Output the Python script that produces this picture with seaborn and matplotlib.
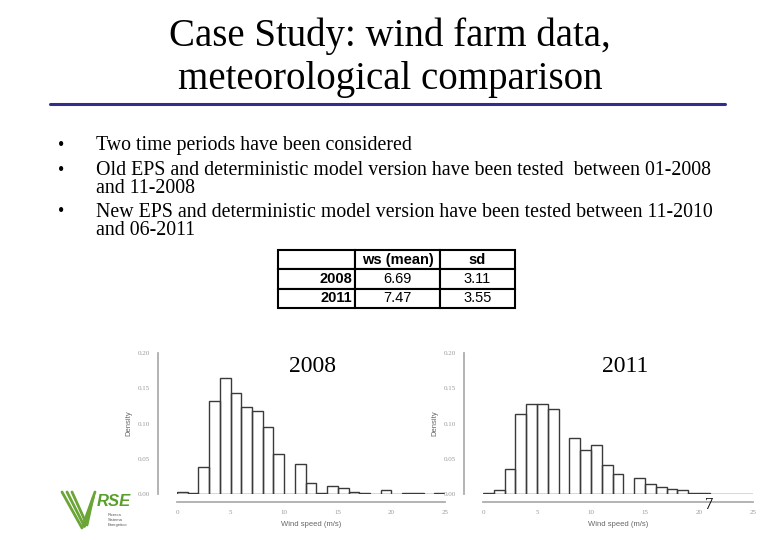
import numpy as np
import pandas as pd
import matplotlib
matplotlib.use("Agg")
import matplotlib.pyplot as plt
import seaborn as sns

# histogram bins (1 m/s wide) and densities
bin_left = np.arange(0, 25)
dens_2008 = [0.003, 0.001, 0.038, 0.132, 0.164, 0.143, 0.124, 0.118, 0.095, 0.057,
             0.0, 0.042, 0.016, 0.001, 0.011, 0.008, 0.003, 0.002, 0.0, 0.005,
             0.0, 0.001, 0.001, 0.0, 0.001]
dens_2011 = [0.001, 0.005, 0.035, 0.114, 0.128, 0.128, 0.120, 0.0, 0.080, 0.063,
             0.069, 0.041, 0.028, 0.0, 0.023, 0.014, 0.010, 0.007, 0.006, 0.001,
             0.002, 0.0005, 0.0005, 0.0005, 0.0005]

table_rows = ["2008", "2011"]
table_cols = ["", "ws (mean)", "sd"]
ws_mean = ["6.69", "7.47"]
ws_sd = ["3.11", "3.55"]

bullets = [
    "Two time periods have been considered",
    "Old EPS and deterministic model version have been tested  between 01-2008\nand 11-2008",
    "New EPS and deterministic model version have been tested between 11-2010\nand 06-2011",
]

W, H = 780, 540
sns.set_theme(style="white")
plt.rcParams['font.family'] = ['Liberation Serif', 'DejaVu Serif']
plt.rcParams['text.color'] = 'black'
fig = plt.figure(figsize=(7.8, 5.4), dpi=100)

def fx(x): return x / W
def fy(y): return 1 - y / H

# title
fig.text(fx(390), fy(36), "Case Study: wind farm data,", ha="center", va="center", fontsize=28)
fig.text(fx(390), fy(79), "meteorological comparison", ha="center", va="center", fontsize=28)
fig.add_artist(plt.Line2D([fx(50), fx(725)], [fy(104), fy(104)], color="#2e2e8f", lw=2.2))

# bullets
ys = [145, 170, 212]
for y, b in zip(ys, bullets):
    fig.text(fx(58), fy(y), "•", ha="left", va="center", fontsize=13)
    fig.text(fx(96), fy(y - 9), b, ha="left", va="top", fontsize=14.3, linespacing=0.95)

# table
tax = fig.add_axes([fx(278), fy(308), fx(515) - fx(278), fy(250) - fy(308)])
tax.axis("off")
cells = [table_cols] + [[r, m, s] for r, m, s in zip(table_rows, ws_mean, ws_sd)]
tbl = tax.table(cellText=cells, bbox=[0, 0, 1, 1], colWidths=[77, 85, 75], cellLoc="center")
tbl.auto_set_font_size(False)
for (r, c), cell in tbl.get_celld().items():
    cell.set_linewidth(1.5)
    cell.set_edgecolor("black")
    t = cell.get_text()
    t.set_fontfamily("Liberation Sans")
    t.set_fontsize(10.5)
    if r == 0 or c == 0:
        t.set_fontweight("bold")
    if c == 0:
        cell._loc = "right"
        t.set_ha("right")
        cell.PAD = 0.04

# histograms
panels = [(177, 445, dens_2008, "2008", 313), (483, 753, dens_2011, "2011", 625)]
for x0, x1, dens, year, lx in panels:
    ax = fig.add_axes([fx(x0), fy(494), fx(x1) - fx(x0), fy(353) - fy(494)])
    df = pd.DataFrame({"ws": bin_left + 0.5, "density": dens})
    sns.histplot(data=df, x="ws", weights="density", binwidth=1, binrange=(0, 25),
                 stat="count", fill=False, element="bars", color="#3a3a3a",
                 linewidth=1.0, ax=ax)
    ax.set_xlim(0, 25)
    ax.set_ylim(0, 0.2)
    ax.set_xticks([0, 5, 10, 15, 20, 25])
    ax.set_yticks([0, 0.05, 0.10, 0.15, 0.20])
    ax.set_yticklabels(["0.00", "0.05", "0.10", "0.15", "0.20"], rotation=90, va="center")
    ax.tick_params(labelsize=5, colors="#999999", length=2)
    ax.set_xlabel("Wind speed (m/s)", fontsize=5.5, color="#666666", family="Liberation Sans")
    ax.set_ylabel("Density", fontsize=5.5, color="#666666", family="Liberation Sans")
    for s in ["top", "right"]:
        ax.spines[s].set_visible(False)
    ax.spines["left"].set_position(("outward", 14))
    ax.spines["bottom"].set_position(("outward", 6))
    ax.spines["left"].set_color("#aaaaaa")
    ax.spines["bottom"].set_color("#aaaaaa")
    ax.patch.set_alpha(0)
    fig.text(fx(lx), fy(366), year, ha="center", va="center", fontsize=17)

# logo and page number
fig.text(fx(97), fy(502), "RSE", color="#5a9e2e", fontsize=12, fontweight="bold",
         style="italic", family="Liberation Sans", ha="left", va="center")
fig.text(fx(108), fy(520), "Ricerca\nSistema\nEnergetico", color="#555555", fontsize=3,
         family="Liberation Sans", ha="left", va="center")
for off in [0, 5, 10]:
    fig.add_artist(plt.Line2D([fx(62 + off), fx(82 + off * 0.5), fx(95 - off * 0.3)],
                              [fy(492), fy(528 - off * 0.3), fy(492 + off)],
                              color="#6aa536", lw=2))
fig.text(fx(709), fy(505), "7", fontsize=12, ha="center", va="center")

fig.savefig("out.png", dpi=100)
